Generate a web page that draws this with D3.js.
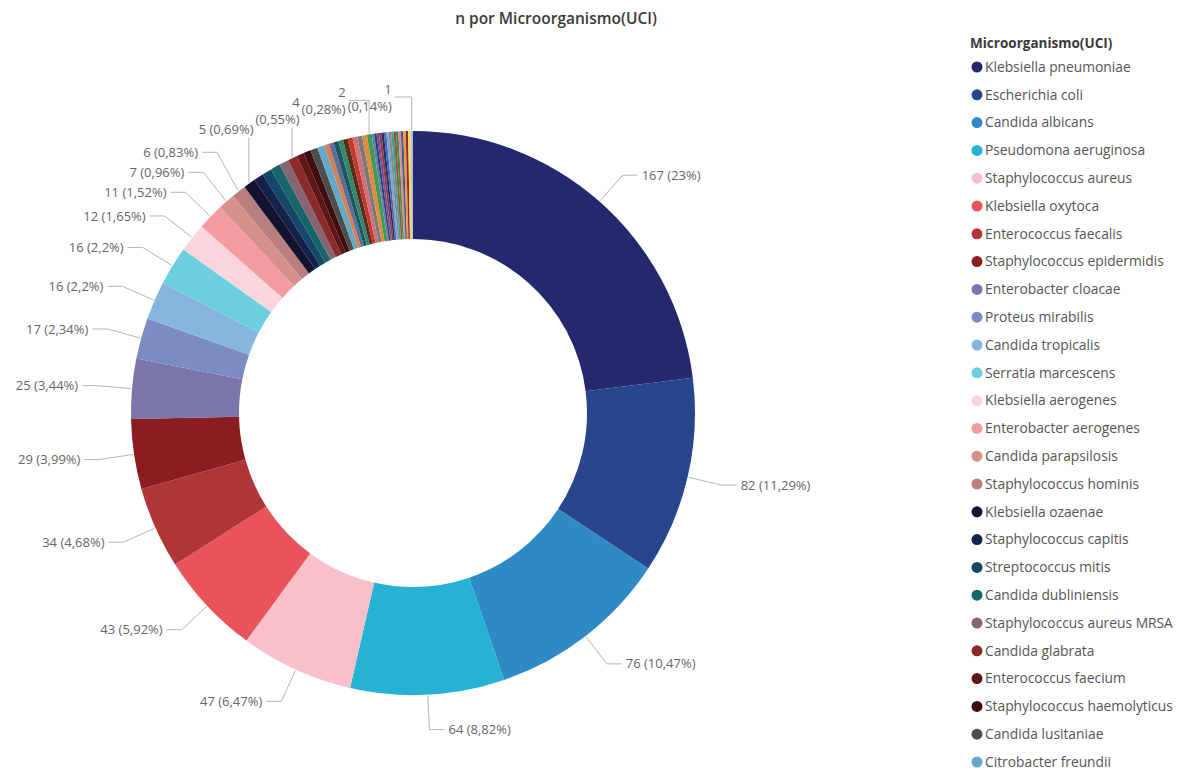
<!DOCTYPE html>
<html>
<head>
<meta charset="utf-8">
<script src="https://cdn.jsdelivr.net/npm/d3@7/dist/d3.min.js"></script>
<style>
  html, body { margin: 0; padding: 0; background: #ffffff; }
  svg { display: block; font-family: "Open Sans", "Noto Sans", sans-serif; }
</style>
</head>
<body>
<svg id="chart" width="1197" height="774"></svg>
<script>
// ---------------- DATA ----------------
const title = "n por Microorganismo(UCI)";
const legendTitle = "Microorganismo(UCI)";

const categories = [
  "Klebsiella pneumoniae", "Escherichia coli", "Candida albicans", "Pseudomona aeruginosa",
  "Staphylococcus aureus", "Klebsiella oxytoca", "Enterococcus faecalis", "Staphylococcus epidermidis",
  "Enterobacter cloacae", "Proteus mirabilis", "Candida tropicalis", "Serratia marcescens",
  "Klebsiella aerogenes", "Enterobacter aerogenes", "Candida parapsilosis", "Staphylococcus hominis",
  "Klebsiella ozaenae", "Staphylococcus capitis", "Streptococcus mitis", "Candida dubliniensis",
  "Staphylococcus aureus MRSA", "Candida glabrata", "Enterococcus faecium", "Staphylococcus haemolyticus",
  "Candida lusitaniae", "Citrobacter freundii",
  "Acinetobacter baumannii", "Stenotrophomonas maltophilia", "Morganella morganii", "Candida krusei",
  "Proteus vulgaris", "Serratia liquefaciens", "Citrobacter koseri", "Enterococcus gallinarum",
  "Streptococcus pneumoniae", "Staphylococcus lugdunensis",
  "Acinetobacter lwoffii", "Aeromonas hydrophila", "Burkholderia cepacia", "Candida guilliermondii",
  "Candida auris", "Corynebacterium striatum", "Enterobacter asburiae", "Escherichia hermannii",
  "Haemophilus influenzae", "Hafnia alvei", "Providencia stuartii", "Pseudomonas putida",
  "Raoultella planticola", "Salmonella spp", "Staphylococcus warneri", "Streptococcus agalactiae",
  "Trichosporon asahii"
];

const values = [
  167, 82, 76, 64, 47, 43, 34, 29, 25, 17, 16, 16, 12, 11, 7, 6,
  5, 4, 4, 4, 4, 4, 3, 3, 3, 3,
  2, 2, 2, 2, 2, 2, 2, 2, 2, 2,
  1, 1, 1, 1, 1, 1, 1, 1, 1, 1, 1, 1, 1, 1, 1, 1, 1
];

const colors = [
  "#26286f", "#27468c", "#2e89c4", "#26b2d5", "#f9bfcb", "#e9535a", "#b03537", "#8b1c20",
  "#7a75ab", "#7b8cc3", "#86b5de", "#6ccfdf", "#fbd5dc", "#f29c9f", "#d6908b", "#b97e7e",
  "#11132f", "#15204b", "#154768", "#166568", "#866473", "#8a2b2b", "#5e1616", "#3f0d0d",
  "#4d4d4d", "#63a9c9",
  "#d8804f", "#5b6f9a", "#1f5560", "#2f8a6a", "#5a2a1a", "#c0392b", "#d2707a", "#7a7a7a",
  "#e08a3a", "#3f9a5a",
  "#6080a0", "#2a3f7a", "#7a4a9a", "#9a3a3a", "#202a6a", "#3a6ac0", "#8aa0c0", "#888888",
  "#3aa0a0", "#8a5a3a", "#4a8a3a", "#d88aa8", "#4a5a7a", "#e0a040", "#a02040", "#e8e23a",
  "#b8bce8"
];

// slices whose data labels are visible in the reference
const labeledNames = [
  "Klebsiella pneumoniae", "Escherichia coli", "Candida albicans", "Pseudomona aeruginosa",
  "Staphylococcus aureus", "Klebsiella oxytoca", "Enterococcus faecalis", "Staphylococcus epidermidis",
  "Enterobacter cloacae", "Proteus mirabilis", "Candida tropicalis", "Serratia marcescens",
  "Klebsiella aerogenes", "Enterobacter aerogenes", "Candida parapsilosis", "Staphylococcus hominis",
  "Klebsiella ozaenae", "Candida glabrata", "Staphylococcus lugdunensis", "Trichosporon asahii"
];

// ---------------- CHART ----------------
const data = categories.map((c, i) => ({ name: c, value: values[i], color: colors[i] }));
const total = d3.sum(values);
const fmtPct = v => {
  const p = Math.round(v / total * 10000) / 100;
  return String(p).replace(".", ",") + "%";
};

const svg = d3.select("#chart");
const W = 1197, H = 774;
const cx = 413, cy = 413, R = 282, Rin = 174;

svg.append("text")
  .attr("x", 556).attr("y", 24)
  .attr("text-anchor", "middle")
  .attr("font-size", 15.5).attr("font-weight", 600)
  .attr("fill", "#3a3a3a")
  .text(title);

const pie = d3.pie().sort(null).value(d => d.value).startAngle(0).endAngle(2 * Math.PI);
const arc = d3.arc().innerRadius(Rin).outerRadius(R);
const arcs = pie(data);

const g = svg.append("g").attr("transform", `translate(${cx},${cy})`);
g.selectAll("path").data(arcs).join("path")
  .attr("d", arc)
  .attr("fill", d => d.data.color);

// ---------------- LABELS ----------------
const labeledSet = new Set(labeledNames);
const labels = arcs.filter(a => labeledSet.has(a.data.name)).map(a => {
  const mid = (a.startAngle + a.endAngle) / 2;
  const s = Math.sin(mid), c = Math.cos(mid);
  return {
    mid, value: a.data.value,
    text: `${a.data.value} (${fmtPct(a.data.value)})`,
    pct: `(${fmtPct(a.data.value)})`,
    ax: cx + (R + 1) * s, ay: cy - (R + 1) * c,
    ex: cx + (R + 35) * s, ey: cy - (R + 35) * c,
    side: s >= 0 ? "right" : "left"
  };
});

const lineColor = "#b5b5b5", textColor = "#666666", fs = 13;
const lg = svg.append("g");

function drawLine(pts) {
  lg.append("path")
    .attr("d", d3.line()(pts))
    .attr("fill", "none").attr("stroke", lineColor).attr("stroke-width", 1);
}
function drawText(x, y, str, anchor) {
  return lg.append("text")
    .attr("x", x).attr("y", y)
    .attr("dy", "0.35em")
    .attr("text-anchor", anchor)
    .attr("font-size", fs).attr("fill", textColor)
    .text(str);
}

// right-side labels
labels.filter(l => l.side === "right").forEach(l => {
  drawLine([[l.ax, l.ay], [l.ex, l.ey], [l.ex + 15, l.ey]]);
  drawText(l.ex + 19, l.ey, l.text, "start");
});

// left-side labels: push upward to avoid overlap
const left = labels.filter(l => l.side === "left").sort((a, b) => a.mid - b.mid);
let prevY = Infinity;
const cluster = [];
let inCluster = false;
left.forEach(l => {
  const y = Math.min(l.ey, prevY - 20);
  if (inCluster || y < 140) { inCluster = true; cluster.push(l); return; }
  prevY = y;
  drawLine([[l.ax, l.ay], [l.ex, y], [l.ex - 15, y]]);
  drawText(l.ex - 19, y, l.text, "end");
});

// crowded labels near the top: laid out right to left, wrapped on two lines
cluster.sort((a, b) => b.mid - a.mid);
let prevLeft = null, prevPct = null;
cluster.forEach((l, i) => {
  const isLast = i === cluster.length - 1;
  const right = prevLeft === null ? l.ax - 20 : prevLeft - 2;
  const py = prevPct === null ? l.ay - 24 : Math.min(l.ay - 24, prevPct + 10);
  if (isLast) {
    const t = drawText(right, py, l.text, "end");
    const w = t.node().getComputedTextLength();
    if (l.ax > right + 4) drawLine([[right + 3, py], [l.ax, py], [l.ax, l.ay]]);
    else drawLine([[l.ax, py + 8], [l.ax, l.ay]]);
    prevLeft = right - w;
  } else {
    const t1 = drawText(right, py, l.pct, "end");
    drawText(right, py - 17, String(l.value), "end");
    const w = t1.node().getComputedTextLength();
    const my = py - 9;
    if (l.ax > right + 4) drawLine([[right + 3, my], [l.ax, my], [l.ax, l.ay]]);
    else drawLine([[l.ax, py + 8], [l.ax, l.ay]]);
    prevLeft = right - w;
  }
  prevPct = py;
});

// ---------------- LEGEND ----------------
const legX = 970, legY0 = 67, legStep = 27.8;
svg.append("text")
  .attr("x", legX).attr("y", 43).attr("dy", "0.35em")
  .attr("font-size", 13.5).attr("font-weight", 700).attr("fill", "#3a3a3a")
  .text(legendTitle);

const legItems = data.map((d, i) => ({ ...d, y: legY0 + i * legStep })).filter(d => d.y + 7 < H);
const leg = svg.append("g").selectAll("g").data(legItems).join("g")
  .attr("transform", d => `translate(${legX},${d.y})`);
leg.append("circle").attr("cx", 7).attr("cy", 0).attr("r", 5.5).attr("fill", d => d.color);
leg.append("text").attr("x", 15).attr("dy", "0.35em")
  .attr("font-size", 13.8).attr("fill", "#555555")
  .text(d => d.name);
</script>
</body>
</html>
